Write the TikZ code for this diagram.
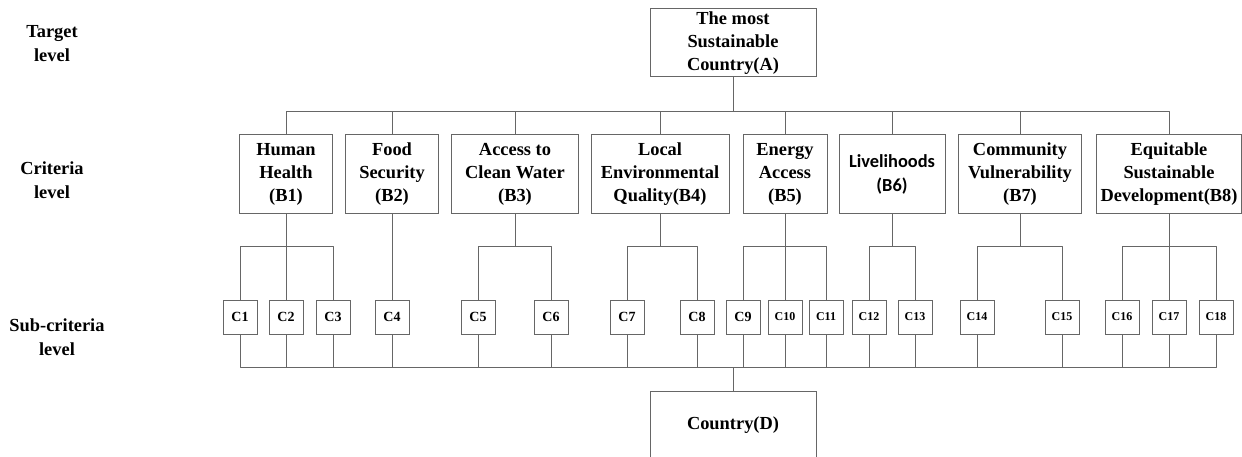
\documentclass[tikz,border=0pt]{standalone}
\usepackage{fontspec}
\setmainfont{Liberation Serif}
\newfontfamily\livfont{Carlito}
\usetikzlibrary{positioning}

\tikzset{
  box/.style={draw=black!60, line width=1pt, align=center, inner sep=0pt,
    font=\bfseries\fontsize{18.4}{23}\selectfont},
  subbox/.style={draw=black!60, line width=1pt, inner sep=0pt,
    minimum width=34pt, minimum height=34pt, font=\bfseries\fontsize{14}{16}\selectfont},
  small/.style={font=\bfseries\fontsize{12}{14}\selectfont},
  levellabel/.style={align=center, font=\bfseries\fontsize{18.4}{24}\selectfont},
  link/.style={draw=black!60, line width=1pt, line join=round}
}

\begin{document}
\begin{tikzpicture}[x=1pt,y=-1pt]
    \useasboundingbox (0,0) rectangle (1242,457);
    \clip (0,0) rectangle (1242,457);

    % Level labels
    \node[levellabel] (lvtarget) at (52,44) {Target\\level};
    \node[levellabel] (lvcrit) at (52,180) {Criteria\\level};
    \node[levellabel] (lvsub) at (57,337) {Sub-criteria\\level};

    % Target
    \node[box, minimum width=166pt, minimum height=68pt] (A) at (733,43) {The most\\Sustainable\\Country(A)};

    % Criteria
    \foreach \n/\x/\w/\t in {B1/286/93/{Human\\Health\\(B1)}, B2/392/93/{Food\\Security\\(B2)},
        B3/515/127/{Access to\\Clean Water\\(B3)}, B4/660/138/{Local\\Environmental\\Quality(B4)},
        B5/785/84/{Energy\\Access\\(B5)}, B7/1020/123/{Community\\Vulnerability\\(B7)},
        B8/1169/145/{Equitable\\Sustainable\\Development(B8)}}
        \node[box, minimum width=\w pt, minimum height=79pt] (\n) at (\x,174.5) {\t};
    \node[box, font=\livfont\bfseries\fontsize{18.4}{24}\selectfont,
        minimum width=106pt, minimum height=79pt] (B6) at (892,174.5) {Livelihoods\\(B6)};

    % Sub-criteria
    \foreach \n/\x in {C1/240, C2/286, C3/333, C4/392, C5/478, C6/551, C7/627, C8/697, C9/743}
        \node[subbox] (\n) at (\x,317) {\n};
    \foreach \n/\x in {C10/785, C11/826, C12/869, C13/915, C14/977, C15/1062, C16/1122, C17/1169, C18/1216}
        \node[subbox, small] (\n) at (\x,317) {\n};

    % Alternative
    \node[box, minimum width=166pt, minimum height=68pt] (D) at (733,425) {Country(D)};

    % Bars
    \coordinate (topbar) at (0,112);
    \coordinate (midbar) at (0,246);
    \coordinate (botbar) at (0,367);

    % A to criteria
    \draw[link] (A.south) -- (A.south |- topbar);
    \draw[link] (B1.north) |- (B8.north |- topbar) -- (B8.north);
    \foreach \b in {2,...,7}
        \draw[link] (B\b.north) -- (B\b.north |- topbar);

    % Criteria to sub-criteria
    \foreach \b/\f/\l in {1/1/3, 3/5/6, 4/7/8, 5/9/11, 6/12/13, 7/14/15, 8/16/18} {
        \draw[link] (B\b.south) -- (B\b.south |- midbar);
        \draw[link] (C\f.north) |- (C\l.north |- midbar) -- (C\l.north);
    }
    \foreach \c in {2,10,17}
        \draw[link] (C\c.north) -- (C\c.north |- midbar);
    \draw[link] (B2.south) -- (C4.north);

    % Sub-criteria to country
    \draw[link] (C1.south) |- (C18.south |- botbar) -- (C18.south);
    \foreach \c in {2,...,17}
        \draw[link] (C\c.south) -- (C\c.south |- botbar);
    \draw[link] (D.north) -- (D.north |- botbar);
\end{tikzpicture}
\end{document}
